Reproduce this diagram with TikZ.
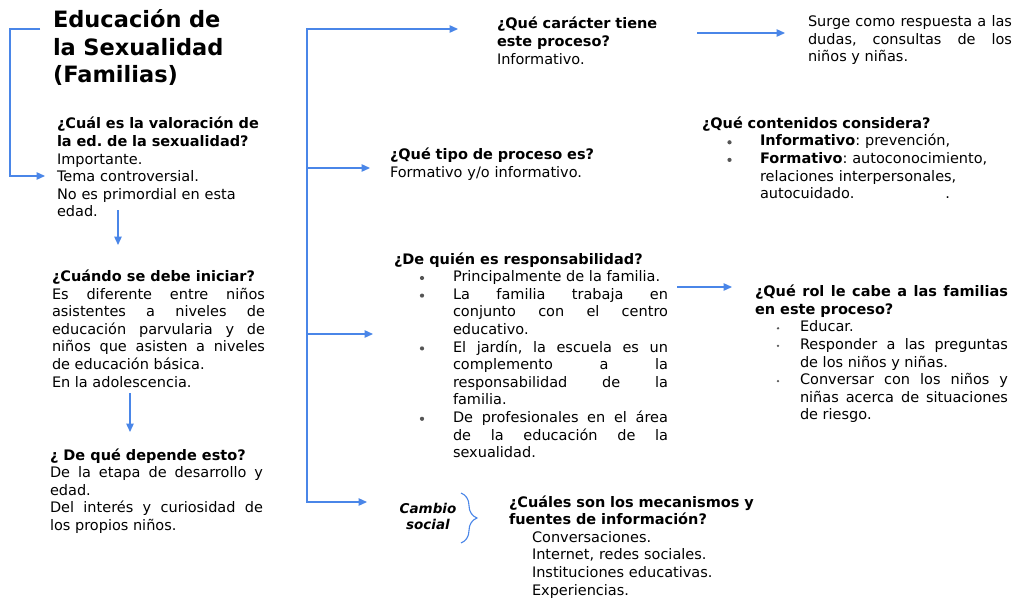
\documentclass[tikz,border=0pt]{standalone}
\usepackage{fontspec}
\setmainfont{DejaVu Sans}
\usetikzlibrary{arrows.meta,decorations.pathreplacing}
\definecolor{lnblue}{RGB}{74,134,232}
\definecolor{bulgray}{RGB}{85,85,85}
\hyphenpenalty=10000
\exhyphenpenalty=10000
\tolerance=10000
\hbadness=10000
\frenchspacing
\newcommand\bodyfont{\fontsize{14.5}{17.6}\selectfont\frenchspacing}
\newcommand\titlefont{\fontsize{22.5}{27.5}\selectfont\bfseries}
\newcommand\cambiofont{\fontsize{13.5}{16}\selectfont\bfseries\itshape}
\newcommand\bigdot{\tikz[baseline=0pt]{\path[use as bounding box] (0pt,0pt) rectangle (5pt,1pt);\fill[bulgray] (2.5pt,3.6pt) circle (2.1pt);}}
\newcommand\smalldot{\tikz[baseline=0pt]{\path[use as bounding box] (0pt,0pt) rectangle (3pt,1pt);\fill[bulgray] (1.5pt,3.6pt) circle (1.3pt);}}
\newcommand\qitem[1]{\par\leftskip=25pt\hangindent=34pt\hangafter=1\noindent\makebox[34pt][l]{\hspace*{0.5pt}\bigdot}#1\par}
\newcommand\citem[1]{\par\leftskip=24pt\hangindent=34pt\hangafter=1\noindent\makebox[34pt][l]{\hspace*{1pt}\bigdot}#1\par}
\newcommand\ritem[1]{\par\leftskip=20pt\hangindent=25pt\hangafter=1\noindent\makebox[25pt][l]{\hspace*{1.5pt}\smalldot}#1\par}
\tikzset{
  every node/.style={inner sep=0pt, outer sep=0pt},
  txt/.style={anchor=base west, font=\bodyfont, text width=#1},
  jtxt/.style={txt=#1, align=justify},
  ltxt/.style={txt=#1, align=left},
  con/.style={draw=lnblue, line width=1.3pt, line join=miter},
  arr/.style={con, -{Triangle[length=8.5pt,width=7.5pt]}},
}
\begin{document}
\begin{tikzpicture}[x=1pt,y=-1pt]
\fill[white] (0,0) rectangle (1023,599);
\useasboundingbox (0,0) rectangle (1023,599);

% left column
\node[ltxt=260, font=\titlefont] (title) at (53,28) {Educación de\\la Sexualidad\\(Familias)};
\node[ltxt=215] (val) at (57,129) {\bfseries ¿Cuál es la valoración de\\la ed. de la sexualidad?\\\mdseries Importante.\\Tema controversial.\\No es primordial en esta\\edad.};
\node[jtxt=213] (ini) at (52,281.5) {\bfseries ¿Cuándo se debe iniciar?\par\mdseries Es diferente entre niños\linebreak asistentes a niveles de\linebreak educación parvularia y de\linebreak niños que asisten a niveles\linebreak de educación básica.\par En la adolescencia.\par};
\node[jtxt=213] (dep) at (50,460) {\bfseries ¿ De qué depende esto?\par\mdseries De la etapa de desarrollo y\linebreak edad.\par Del interés y curiosidad de\linebreak los propios niños.\par};

% middle and right
\node[ltxt=220] (car) at (497,29) {\bfseries ¿Qué carácter tiene\\este proceso?\\\mdseries Informativo.};
\node[jtxt=204] (surge) at (808,26.7) {Surge como respuesta a las\linebreak dudas, consultas de los\linebreak niños y niñas.\par};
\node[ltxt=260] (tipo) at (390,160) {\bfseries ¿Qué tipo de proceso es?\\\mdseries Formativo y/o informativo.};
\node[ltxt=320] (cont) at (702,128.3) {\bfseries ¿Qué contenidos considera?\mdseries
  \citem{\textbf{Informativo}: prevención,}
  \citem{\textbf{Formativo}: autoconocimiento,\newline relaciones interpersonales,\newline autocuidado.\hspace*{91pt}.}};
\node[jtxt=274] (quien) at (394,264) {\bfseries ¿De quién es responsabilidad?\mdseries
  \qitem{Principalmente de la familia.}
  \qitem{La familia trabaja en\linebreak conjunto con el centro\linebreak educativo.}
  \qitem{El jardín, la escuela es un\linebreak complemento a la\linebreak responsabilidad de la\linebreak familia.}
  \qitem{De profesionales en el área\linebreak de la educación de la\linebreak sexualidad.}};
\node[jtxt=253] (rol) at (755,296.7) {\bfseries ¿Qué rol le cabe a las familias\linebreak en este proceso?\mdseries
  \ritem{Educar.}
  \ritem{Responder a las preguntas\linebreak de los niños y niñas.}
  \ritem{Conversar con los niños y\linebreak niñas acerca de situaciones\linebreak de riesgo.}};
\node[anchor=base, align=center, text width=80, font=\cambiofont] (cam) at (428,513) {Cambio\\social};
\node[ltxt=280] (mec) at (509,507) {\bfseries ¿Cuáles son los mecanismos y\\fuentes de información?\par\mdseries\leftskip=23pt Conversaciones.\par Internet, redes sociales.\par Instituciones educativas.\par Experiencias.\par};

% connector points
\coordinate (L0) at (40,29);
\coordinate (L1) at (10,29);
\coordinate (L2) at (10,176);
\coordinate (L3) at (45,176);
\coordinate (D1a) at (118,210);
\coordinate (D1b) at (118,245);
\coordinate (D2a) at (130,393);
\coordinate (D2b) at (130,432);
\coordinate (M0) at (307,29);
\coordinate (M1) at (307,502);
\coordinate (Mcar) at (458,29);
\coordinate (Mt0) at (307,168);
\coordinate (Mt1) at (370,168);
\coordinate (Mq0) at (307,334);
\coordinate (Mq1) at (373,334);
\coordinate (Mcam) at (367,502);
\coordinate (S0) at (697,33);
\coordinate (S1) at (785,33);
\coordinate (R0) at (677,287);
\coordinate (R1) at (732,287);
\coordinate (B0) at (461,493);
\coordinate (B1) at (461,543);

% connectors
\draw[arr] (L0) -- (L1) -- (L2) -- (L3);
\draw[arr] (D1a) -- (D1b);
\draw[arr] (D2a) -- (D2b);
\draw[arr] (M1) -- (M0) -- (Mcar);
\draw[arr] (M0) -- (M1) -- (Mcam);
\draw[arr] (Mt0) -- (Mt1);
\draw[arr] (Mq0) -- (Mq1);
\draw[arr] (S0) -- (S1);
\draw[arr] (R0) -- (R1);
\draw[draw=lnblue, line width=1.1pt, decorate, decoration={brace, amplitude=16pt}] (B0) -- (B1);
\end{tikzpicture}
\end{document}
